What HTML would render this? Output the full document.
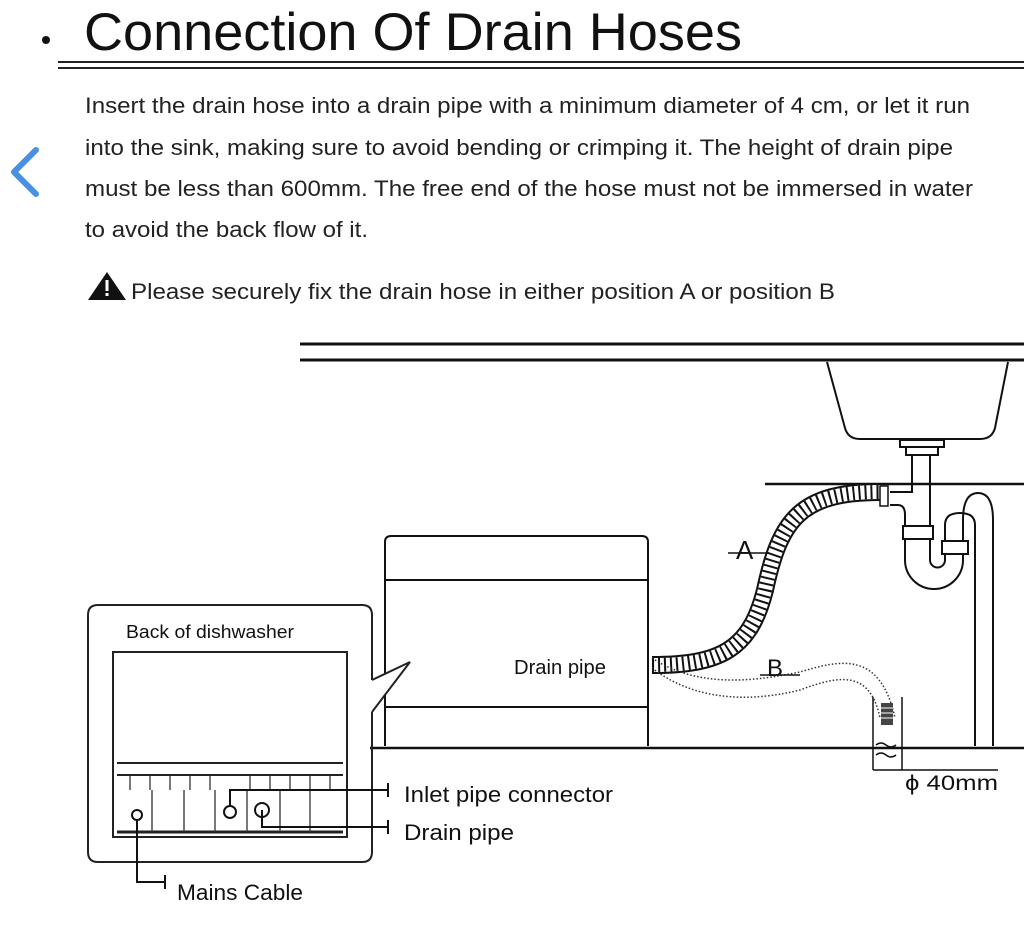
<!DOCTYPE html>
<html><head><style>
body{margin:0;background:#fff;}
svg{display:block;font-family:"Liberation Sans",Arial,sans-serif;}
</style></head><body>
<svg width="1024" height="930" viewBox="0 0 1024 930" xmlns="http://www.w3.org/2000/svg">
<circle cx="46" cy="40" r="4" fill="#111"/>
<text x="84" y="50" font-size="53" fill="#111" textLength="658" lengthAdjust="spacingAndGlyphs">Connection Of Drain Hoses</text>
<line x1="58" y1="62" x2="1024" y2="62" stroke="#222" stroke-width="2"/>
<line x1="58" y1="68" x2="1024" y2="68" stroke="#222" stroke-width="2"/>
<polyline points="36,150 14,172 36,194" fill="none" stroke="#4a90e2" stroke-width="6" stroke-linecap="round" stroke-linejoin="round"/>
<g font-size="22.5" fill="#222">
<text x="85" y="113" textLength="885" lengthAdjust="spacingAndGlyphs">Insert the drain hose into a drain pipe with a minimum diameter of 4 cm, or let it run</text>
<text x="85" y="155" textLength="868" lengthAdjust="spacingAndGlyphs">into the sink, making sure to avoid bending or crimping it. The height of drain pipe</text>
<text x="85" y="196" textLength="888" lengthAdjust="spacingAndGlyphs">must be less than 600mm. The free end of the hose must not be immersed in water</text>
<text x="85" y="237" textLength="283" lengthAdjust="spacingAndGlyphs">to avoid the back flow of it.</text>
<text x="131" y="299" textLength="704" lengthAdjust="spacingAndGlyphs">Please securely fix the drain hose in either position A or position B</text>
</g>
<polygon points="107,272 88,300 126,300" fill="#111"/>
<rect x="105.5" y="280" width="3" height="11" fill="#fff"/><rect x="105.5" y="293" width="3" height="3" fill="#fff"/>

<g stroke="#111" fill="none" stroke-width="2">
<line x1="300" y1="344" x2="1024" y2="344" stroke-width="3"/>
<line x1="300" y1="360" x2="1024" y2="360" stroke-width="3"/>
<path d="M827 362 L845 428 Q848 439 860 439 L980 439 Q992 439 995 428 L1008 362"/>
<rect x="900" y="440" width="44" height="7"/>
<rect x="906" y="447" width="32" height="8"/>
<line x1="765" y1="484" x2="1024" y2="484" stroke-width="2.5"/>
<path d="M890 492 H912 V455"/>
<path d="M890 505 H898 Q905 505 905 515 V560 A29 29 0 0 0 963 560 V520 Q963 493 978 493 Q993 493 993 520 V746"/>
<path d="M930 455 V560 A7.5 7.5 0 0 0 945 560 V525 Q945 513 960 513 Q975 513 975 525 V746"/>
<rect x="903" y="526" width="30" height="13" fill="#fff"/>
<rect x="942" y="541" width="26" height="13" fill="#fff"/>
<path d="M385 746 L385 542 Q385 536 391 536 L642 536 Q648 536 648 542 L648 746"/>
<line x1="385" y1="580" x2="648" y2="580"/>
<line x1="385" y1="707" x2="648" y2="707"/>
<line x1="370" y1="748" x2="1024" y2="748" stroke-width="2.5"/>
</g>
<path d="M652 665 C720 665 750 650 765 590 C780 520 800 492 880 492" fill="none" stroke="#111" stroke-width="18"/>
<path d="M652 665 C720 665 750 650 765 590 C780 520 800 492 880 492" fill="none" stroke="#fff" stroke-width="14"/>
<path d="M652 665 C720 665 750 650 765 590 C780 520 800 492 880 492" fill="none" stroke="#111" stroke-width="14" stroke-dasharray="2 4"/>
<rect x="880" y="486" width="8" height="20" fill="#fff" stroke="#111" stroke-width="1.5"/>
<g fill="none" stroke="#333" stroke-width="1.5" stroke-dasharray="1.5 2">
<path d="M652 658 C700 690 760 680 800 672 C840 660 880 650 895 718"/>
<path d="M652 668 C700 705 760 700 800 690 C840 675 870 670 880 718"/>
</g>
<g stroke="#111" fill="none" stroke-width="1.5">
<line x1="873" y1="697" x2="873" y2="770"/><line x1="902" y1="697" x2="902" y2="770"/>
<line x1="873" y1="770" x2="998" y2="770"/>
<path d="M876 745 q5 -4 10 0 q5 4 10 0 M876 755 q5 -4 10 0 q5 4 10 0"/>
<line x1="728" y1="553" x2="768" y2="553"/>
<line x1="760" y1="675" x2="800" y2="675"/>
</g>
<rect x="881" y="703" width="12" height="22" fill="#444"/>
<g stroke="#fff" stroke-width="1"><line x1="881" y1="708" x2="893" y2="708"/><line x1="881" y1="713" x2="893" y2="713"/><line x1="881" y1="718" x2="893" y2="718"/></g>
<text x="736" y="559" font-size="26" fill="#111">A</text>
<text x="767" y="676" font-size="24" fill="#111">B</text>
<text x="514" y="674" font-size="20" fill="#111" textLength="92" lengthAdjust="spacingAndGlyphs">Drain pipe</text>
<text x="905" y="790" font-size="21" fill="#111" textLength="93" lengthAdjust="spacingAndGlyphs">ϕ 40mm</text>

<g stroke="#222" fill="none" stroke-width="2">
<path d="M372 680 L372 615 Q372 605 362 605 L98 605 Q88 605 88 615 L88 852 Q88 862 98 862 L362 862 Q372 862 372 852 L372 712"/>
<path d="M372 680 L410 662 L372 712" fill="#fff"/>
<rect x="113" y="652" width="234" height="185"/>
<line x1="117" y1="763" x2="343" y2="763"/>
<line x1="117" y1="775" x2="343" y2="775"/>
<line x1="117" y1="832" x2="343" y2="832" stroke-width="3"/>
</g>
<g stroke="#333" stroke-width="1.3">
<line x1="130" y1="775" x2="130" y2="790"/><line x1="150" y1="775" x2="150" y2="790"/><line x1="170" y1="775" x2="170" y2="790"/><line x1="190" y1="775" x2="190" y2="790"/><line x1="210" y1="775" x2="210" y2="790"/><line x1="250" y1="775" x2="250" y2="790"/><line x1="270" y1="775" x2="270" y2="790"/><line x1="290" y1="775" x2="290" y2="790"/><line x1="310" y1="775" x2="310" y2="790"/><line x1="330" y1="775" x2="330" y2="790"/>
<line x1="152" y1="790" x2="152" y2="832"/><line x1="184" y1="790" x2="184" y2="832"/><line x1="215" y1="790" x2="215" y2="832"/><line x1="247" y1="790" x2="247" y2="832"/><line x1="280" y1="790" x2="280" y2="832"/><line x1="310" y1="790" x2="310" y2="832"/>
</g>
<g stroke="#111" fill="none" stroke-width="2">
<circle cx="230" cy="812" r="6"/><circle cx="262" cy="810" r="7"/><circle cx="137" cy="815" r="5"/>
<path d="M230 806 L230 790 L388 790 M388 783 L388 797"/>
<path d="M262 810 L262 827 L388 827 M388 820 L388 834"/>
<path d="M137 820 L137 882 L165 882 M165 875 L165 889"/>
</g>
<text x="126" y="638" font-size="18" fill="#111" textLength="168" lengthAdjust="spacingAndGlyphs">Back of dishwasher</text>
<text x="404" y="802" font-size="22.5" fill="#111" textLength="209" lengthAdjust="spacingAndGlyphs">Inlet pipe connector</text>
<text x="404" y="840" font-size="22.5" fill="#111" textLength="110" lengthAdjust="spacingAndGlyphs">Drain pipe</text>
<text x="177" y="900" font-size="22.5" fill="#111" textLength="126" lengthAdjust="spacingAndGlyphs">Mains Cable</text>
</svg>
</body></html>
